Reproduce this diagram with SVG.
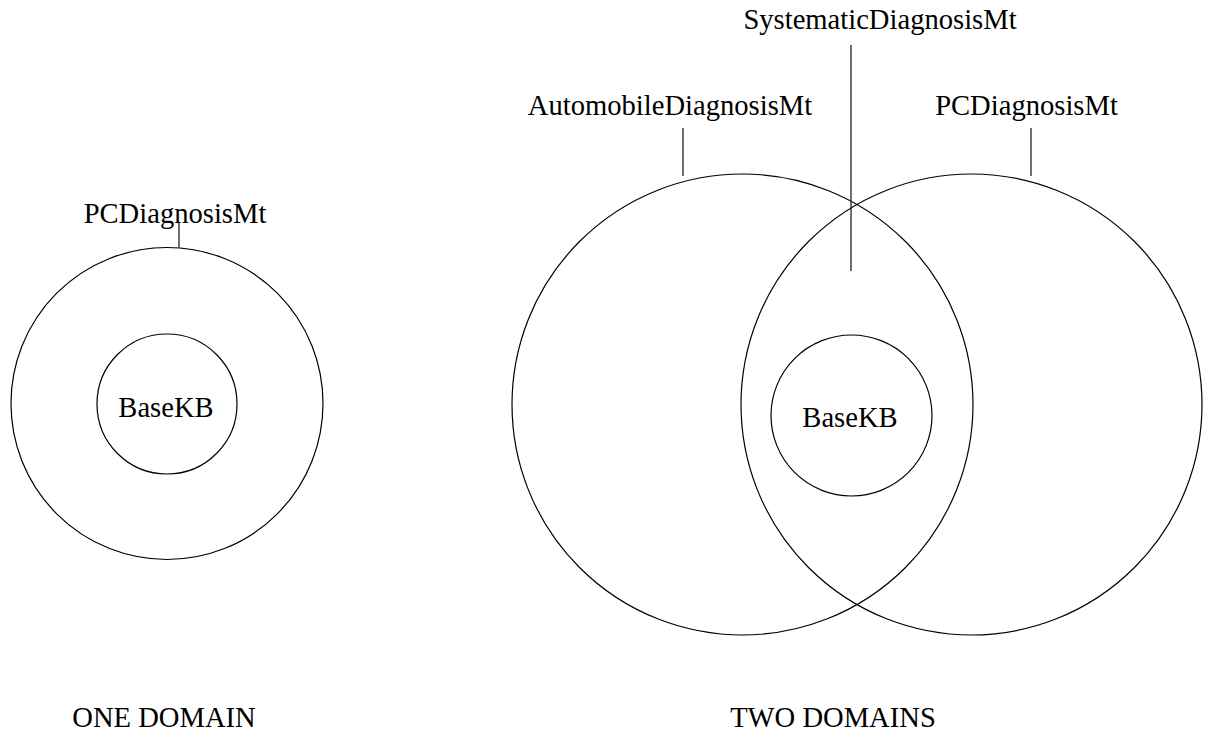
<svg xmlns="http://www.w3.org/2000/svg" width="1205" height="731" viewBox="0 0 1205 731">
<style>
.c{fill:none;stroke:#000;stroke-width:1.2}
.l{stroke:#222;stroke-width:1.3}
text{font-family:"Liberation Serif","Times New Roman",serif;font-size:28.6px;fill:#000;text-anchor:middle}
</style>
<rect width="1205" height="731" fill="#fff"/>
<g id="one-pc"><circle class="c" cx="167" cy="403.5" r="156"/><text x="175" y="223">PCDiagnosisMt</text></g>
<g id="one-base"><circle class="c" cx="167" cy="404" r="70"/><text x="166" y="417">BaseKB</text></g>
<g id="two-auto"><circle class="c" cx="742.5" cy="404.5" r="230.5"/><text x="670" y="115">AutomobileDiagnosisMt</text></g>
<g id="two-pc"><circle class="c" cx="971.5" cy="404.5" r="230.5"/><text x="1026.5" y="115">PCDiagnosisMt</text></g>
<g id="two-sys"><text x="880" y="29">SystematicDiagnosisMt</text></g>
<g id="two-base"><circle class="c" cx="851.5" cy="415.5" r="80.5"/><text x="850" y="427">BaseKB</text></g>
<g id="captions"><text x="164" y="727">ONE DOMAIN</text><text x="833" y="727">TWO DOMAINS</text></g>
<g id="connectors">
<line class="l" x1="179" y1="223" x2="179" y2="247.5"/>
<line class="l" x1="683" y1="128" x2="683" y2="176"/>
<line class="l" x1="1031" y1="128" x2="1031" y2="176"/>
<line class="l" x1="851" y1="45" x2="851" y2="271"/>
</g>
</svg>
